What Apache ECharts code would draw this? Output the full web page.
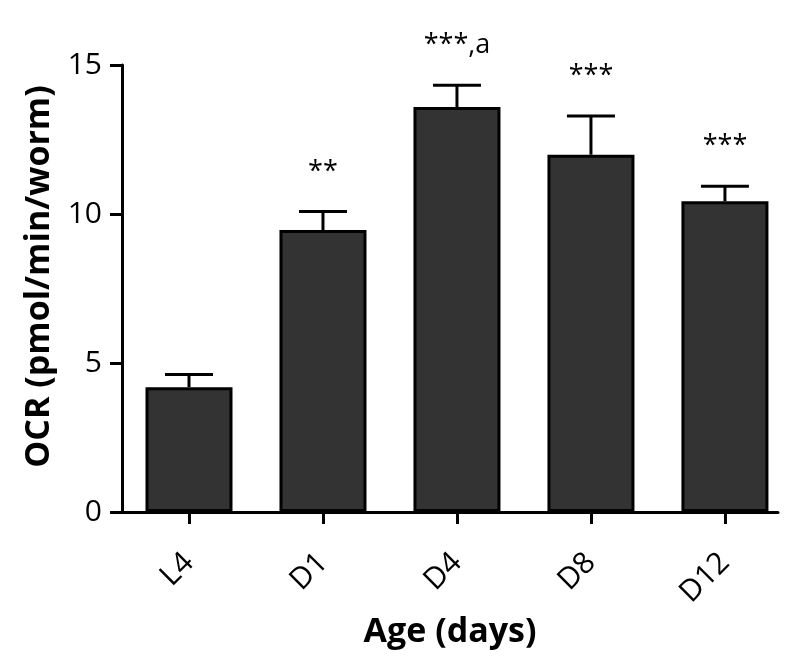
<!DOCTYPE html>
<html>
<head>
<meta charset="utf-8">
<script src="https://cdn.jsdelivr.net/npm/echarts@6/dist/echarts.min.js"></script>
<style>html,body{margin:0;padding:0;background:#fff}#c{width:800px;height:668px}</style>
</head>
<body>
<div id="c"></div>
<script>
const categories = ['L4', 'D1', 'D4', 'D8', 'D12'];
const values = [4.19, 9.46, 13.59, 11.99, 10.43];
const errors = [0.42, 0.62, 0.73, 1.30, 0.50];
const annotations = ['', '**', '***,a', '***', '***'];
const yTicks = [0, 5, 10, 15];

const FONT = '"Open Sans", "Noto Sans", sans-serif';
const chart = echarts.init(document.getElementById('c'));

const barData = categories.map((c, i) => [i, values[i]]);
const errData = categories.map((c, i) => [i, values[i], errors[i]]);

chart.setOption({
  animation: false,
  backgroundColor: '#fff',
  grid: { left: 122, right: 22, top: 65, bottom: 156 },
  xAxis: {
    type: 'value',
    min: -0.5,
    max: 4.396,
    splitLine: { show: false },
    axisLine: { show: true, lineStyle: { color: '#000', width: 3 } },
    axisTick: { show: true, customValues: categories.map((c, i) => i), length: 12, lineStyle: { color: '#000', width: 3 } },
    axisLabel: {
      customValues: categories.map((c, i) => i),
      formatter: v => categories[Math.round(v)] || '',
      rotate: 45, margin: 46, fontSize: 30, color: '#000', fontFamily: FONT
    },
    name: 'Age (days)',
    nameLocation: 'middle',
    nameGap: 98,
    nameTextStyle: { fontSize: 34, fontWeight: 'bold', color: '#000', fontFamily: FONT }
  },
  yAxis: {
    type: 'value',
    min: 0, max: 15, interval: 5,
    splitLine: { show: false },
    axisLine: { show: true, onZero: false, lineStyle: { color: '#000', width: 3 } },
    axisTick: { show: true, length: 12, lineStyle: { color: '#000', width: 3 } },
    axisLabel: { margin: 20, fontSize: 30, color: '#000', fontFamily: FONT,
      formatter: v => yTicks.includes(v) ? String(v) : '' },
    name: 'OCR (pmol/min/worm)',
    nameLocation: 'middle',
    nameGap: 64,
    nameTextStyle: { fontSize: 34, fontWeight: 'bold', color: '#000', fontFamily: FONT, padding: [0, 0, 0, 24] }
  },
  series: [
    {
      type: 'bar',
      data: barData,
      barWidth: 87,
      itemStyle: { color: '#333333', borderColor: '#000', borderWidth: 3 },
      z: 2
    },
    {
      type: 'custom',
      data: errData,
      z: 3,
      renderItem: function (params, api) {
        const x = api.value(0), v = api.value(1), e = api.value(2);
        const txt = annotations[params.dataIndex];
        const p0 = api.coord([x, v]);
        const p1 = api.coord([x, v + e]);
        const half = 24;
        const children = [
          { type: 'line', shape: { x1: p0[0], y1: p0[1], x2: p1[0], y2: p1[1] }, style: { stroke: '#000', lineWidth: 3 } },
          { type: 'line', shape: { x1: p1[0] - half, y1: p1[1], x2: p1[0] + half, y2: p1[1] }, style: { stroke: '#000', lineWidth: 3 } }
        ];
        if (txt) {
          children.push({ type: 'text', x: p1[0], y: p1[1] - 53,
            style: { text: txt, fill: '#000', fontSize: 27, fontFamily: FONT, align: 'center', verticalAlign: 'top' } });
        }
        return { type: 'group', children: children };
      }
    }
  ]
});
</script>
</body>
</html>
